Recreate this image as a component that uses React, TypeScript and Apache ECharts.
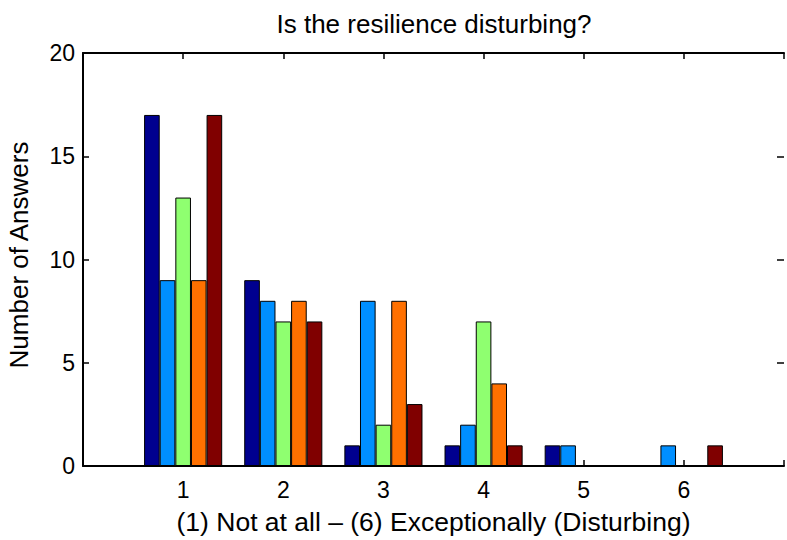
import React, { useEffect, useRef } from "react";
import * as echarts from "echarts";

const categories = [1, 2, 3, 4, 5, 6];
const seriesA = [17, 9, 1, 1, 1, 0];
const seriesB = [9, 8, 8, 2, 1, 1];
const seriesC = [13, 7, 2, 7, 0, 0];
const seriesD = [9, 8, 8, 4, 0, 0];
const seriesE = [17, 7, 3, 1, 0, 1];
const seriesValues = [seriesA, seriesB, seriesC, seriesD, seriesE];
const colors = ["#00008F", "#008FFF", "#8FFF70", "#FF7000", "#800000"];
const yTicks = [0, 5, 10, 15, 20];

const titleText = "Is the resilience disturbing?";
const xName = "(1) Not at all – (6) Exceptionally (Disturbing)";
const yName = "Number of Answers";

const FONT = '"Liberation Sans", Arial, Helvetica, sans-serif';

export default function App() {
  const ref = useRef<HTMLDivElement>(null);
  useEffect(() => {
    document.body.style.margin = "0";
    const chart = echarts.init(ref.current!, undefined, { renderer: "svg" });
    const axisLine = (show: boolean) => ({ show, onZero: false, lineStyle: { color: "#000", width: 2 } });
    const tick = (len: number) => ({ show: true, inside: true, length: len, lineStyle: { color: "#000", width: 1.5 } });
    const option = {
      animation: false,
      backgroundColor: "#fff",
      textStyle: { fontFamily: FONT },
      grid: { left: 83, right: 0, top: 53, bottom: 74, containLabel: false },
      graphic: [
        {
          type: "text",
          x: 434,
          y: 24,
          style: {
            text: titleText,
            fontSize: 26,
            fontFamily: FONT,
            fill: "#000",
            textAlign: "center",
            textVerticalAlign: "middle",
          },
        },
        {
          type: "text",
          x: 18.5,
          y: 255,
          rotation: Math.PI / 2,
          style: {
            text: yName,
            fontSize: 26,
            fontFamily: FONT,
            fill: "#000",
            textAlign: "center",
            textVerticalAlign: "middle",
          },
        },
      ],
      xAxis: [
        {
          type: "value",
          min: 0,
          max: 7,
          interval: 1,
          position: "bottom",
          axisLine: axisLine(true),
          axisTick: tick(6),
          splitLine: { show: false },
          axisLabel: {
            color: "#000",
            fontSize: 23,
            fontFamily: FONT,
            margin: 12,
            formatter: (v: number) => (categories.indexOf(v) >= 0 ? String(v) : ""),
          },
          name: xName,
          nameLocation: "middle",
          nameGap: 42,
          nameTextStyle: { color: "#000", fontSize: 26.5, fontFamily: FONT },
        },
        {
          type: "value",
          min: 0,
          max: 7,
          interval: 1,
          position: "top",
          axisLine: axisLine(true),
          axisTick: tick(6),
          splitLine: { show: false },
          axisLabel: { show: false },
        },
      ],
      yAxis: [
        {
          type: "value",
          min: 0,
          max: 20,
          interval: 5,
          position: "left",
          axisLine: axisLine(true),
          axisTick: tick(6),
          splitLine: { show: false },
          axisLabel: {
            color: "#000",
            fontSize: 23,
            fontFamily: FONT,
            margin: 8,
            formatter: (v: number) => (yTicks.indexOf(v) >= 0 ? String(v) : ""),
          },
        },
        {
          type: "value",
          min: 0,
          max: 20,
          interval: 5,
          position: "right",
          axisLine: axisLine(false),
          axisTick: tick(7),
          splitLine: { show: false },
          axisLabel: { show: false },
        },
      ],
      series: seriesValues.map((vals, i) => ({
        type: "bar",
        name: "Series " + (i + 1),
        xAxisIndex: 0,
        yAxisIndex: 0,
        barGap: "0%",
        barCategoryGap: "22%",
        data: categories.map((c, j) => [c, vals[j]]),
        itemStyle: { color: colors[i], borderColor: "#000", borderWidth: 1 },
      })),
    };
    chart.setOption(option as any);
    return () => chart.dispose();
  }, []);
  return <div ref={ref} style={{ width: 787, height: 540 }} />;
}
